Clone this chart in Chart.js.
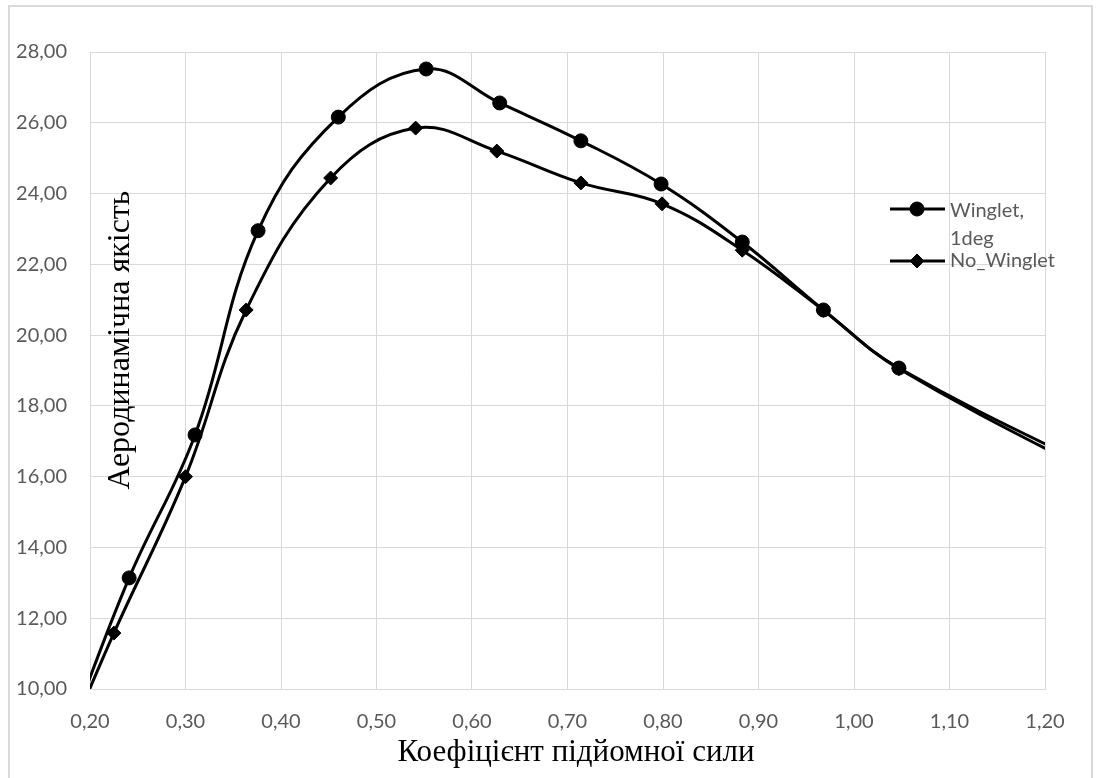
<!DOCTYPE html>
<html lang="uk">
<head>
    <meta charset="UTF-8">
    <title>Аеродинамічна якість</title>
    <script src="https://cdn.jsdelivr.net/npm/chart.js"></script>
    <style>
        body {
            margin: 0;
            background-color: #fff;
        }

        #wrap {
            position: relative;
            width: 1096px;
            height: 778px;
        }
    </style>
</head>
<body>

    <div id="wrap">
        <canvas id="myChart"></canvas>
    </div>

    <script>
        // tick labels
        const xTicks = [0.2, 0.3, 0.4, 0.5, 0.6, 0.7, 0.8, 0.9, 1.0, 1.1, 1.2];
        const yTicks = [10, 12, 14, 16, 18, 20, 22, 24, 26, 28];

        // Winglet, 1deg (first and last points lie outside the visible axes)
        const wingletX = [0.18, 0.241, 0.310, 0.376, 0.460, 0.552, 0.629, 0.714, 0.798, 0.883, 0.968, 1.047, 1.30];
        const wingletY = [8.9, 13.14, 17.18, 22.95, 26.16, 27.52, 26.56, 25.49, 24.27, 22.63, 20.71, 19.07, 15.6];

        // No_Winglet
        const noWingletX = [0.18, 0.225, 0.300, 0.3635, 0.452, 0.541, 0.626, 0.714, 0.799, 0.883, 0.968, 1.047, 1.30];
        const noWingletY = [8.75, 11.58, 16.0, 20.71, 24.44, 25.85, 25.20, 24.30, 23.71, 22.40, 20.70, 19.05, 15.4];

        const xTitle = 'Коефіцієнт підйомної сили';
        const yTitle = 'Аеродинамічна якість';
        const legendItems = [
            { lines: ['Winglet,', '1deg'], pointStyle: 'circle', radius: 7 },
            { lines: ['No_Winglet'], pointStyle: 'rectRot', radius: 7 }
        ];

        const gridColor = '#d9d9d9';
        const labelColor = '#595959';
        const tickFont = { family: 'Lato', size: 20 };

        function toPoints(xs, ys) {
            return xs.map((x, i) => ({ x: x, y: ys[i] }));
        }

        function fmt(v) {
            return v.toFixed(2).replace('.', ',');
        }

        // frame, axis titles and legend drawn on top of the chart
        const decor = {
            id: 'decor',
            beforeDraw(chart) {
                const ctx = chart.ctx;
                ctx.save();
                ctx.strokeStyle = gridColor;
                ctx.lineWidth = 2;
                ctx.strokeRect(9, 6, 1083, 800);
                ctx.restore();
            },
            afterDraw(chart) {
                const ctx = chart.ctx;

                ctx.save();
                ctx.fillStyle = '#000';
                ctx.font = '31px "Liberation Serif"';
                ctx.textAlign = 'center';
                ctx.textBaseline = 'middle';
                ctx.fillText(xTitle, 576, 753);

                ctx.font = '32px "Liberation Serif"';
                ctx.translate(129, 340);
                ctx.rotate(-Math.PI / 2);
                ctx.textBaseline = 'alphabetic';
                ctx.fillText(yTitle, 0, 0);
                ctx.restore();

                // legend
                ctx.save();
                const rows = [209, 261];
                const baselines = [[217, 245], [267]];
                legendItems.forEach((item, i) => {
                    const y = rows[i];
                    ctx.strokeStyle = '#000';
                    ctx.fillStyle = '#000';
                    ctx.lineWidth = 3;
                    ctx.beginPath();
                    ctx.moveTo(890, y);
                    ctx.lineTo(945, y);
                    ctx.stroke();
                    ctx.lineWidth = 1;
                    Chart.helpers.drawPoint(ctx, {
                        pointStyle: item.pointStyle,
                        radius: item.radius,
                        rotation: 0,
                        borderWidth: 1
                    }, 917, y);

                    ctx.fillStyle = labelColor;
                    ctx.font = '20px Lato';
                    ctx.textAlign = 'left';
                    ctx.textBaseline = 'alphabetic';
                    item.lines.forEach((t, j) => ctx.fillText(t, 950, baselines[i][j]));
                });
                ctx.restore();
            }
        };

        const ctx = document.getElementById('myChart').getContext('2d');

        new Chart(ctx, {
            type: 'line',
            data: {
                datasets: [{
                    label: 'Winglet, 1deg',
                    data: toPoints(wingletX, wingletY),
                    borderColor: '#000',
                    backgroundColor: '#000',
                    borderWidth: 3,
                    tension: 0.4,
                    pointStyle: 'circle',
                    pointRadius: 7,
                    pointBorderWidth: 1
                }, {
                    label: 'No_Winglet',
                    data: toPoints(noWingletX, noWingletY),
                    borderColor: '#000',
                    backgroundColor: '#000',
                    borderWidth: 3,
                    tension: 0.4,
                    pointStyle: 'rectRot',
                    pointRadius: 7,
                    pointBorderWidth: 1
                }]
            },
            options: {
                responsive: true,
                maintainAspectRatio: false,
                animation: false,
                layout: {
                    padding: { top: 52, right: 51, left: 0, bottom: 0 }
                },
                plugins: {
                    legend: { display: false },
                    tooltip: { enabled: false }
                },
                scales: {
                    x: {
                        type: 'linear',
                        min: 0.2,
                        max: 1.2,
                        afterBuildTicks: s => { s.ticks = xTicks.map(v => ({ value: v })); },
                        afterFit: s => { s.height = 89; },
                        grid: { color: gridColor, lineWidth: 1, drawTicks: false },
                        border: { color: gridColor, width: 1 },
                        ticks: {
                            color: labelColor,
                            font: tickFont,
                            padding: 21,
                            maxRotation: 0,
                            callback: v => fmt(v)
                        }
                    },
                    y: {
                        min: 10,
                        max: 28,
                        afterBuildTicks: s => { s.ticks = yTicks.map(v => ({ value: v })); },
                        afterFit: s => { s.width = 90; },
                        grid: { color: gridColor, lineWidth: 1, drawTicks: false },
                        border: { color: gridColor, width: 1 },
                        ticks: {
                            color: labelColor,
                            font: tickFont,
                            padding: 23,
                            callback: v => fmt(v)
                        }
                    }
                }
            },
            plugins: [decor]
        });
    </script>
</body>
</html>
